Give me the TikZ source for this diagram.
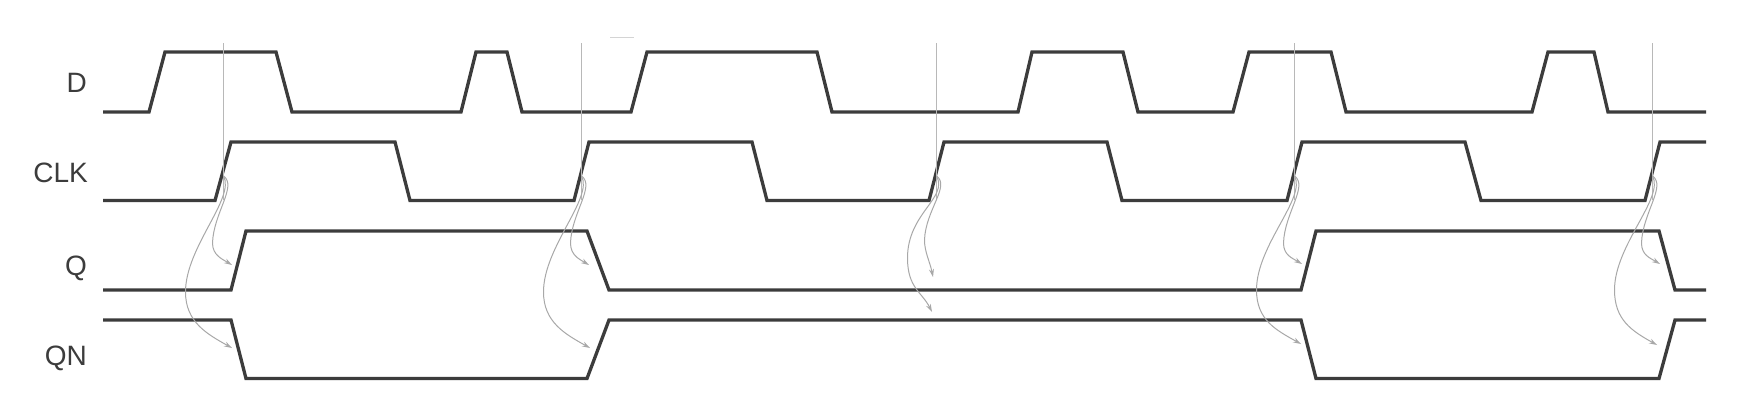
\documentclass[tikz,border=0pt]{standalone}
\usepackage{fontspec}
\setmainfont{Liberation Sans}
\usetikzlibrary{arrows.meta,calc}
\definecolor{wave}{HTML}{3C3C3C}
\definecolor{guide}{HTML}{B8B8B8}
\definecolor{causal}{HTML}{A8A8A8}
\tikzset{
  signal/.style={draw=wave,line width=3.3pt,line join=miter},
  sigLabel/.style={anchor=base east,inner sep=0pt,text=wave,font=\fontsize{28}{32}\selectfont},
  guideline/.style={draw=guide,line width=1pt},
  causearrow/.style={draw=causal,line width=1pt,-{Stealth[length=8pt,width=5pt]}},
}
\begin{document}
\begin{tikzpicture}[x=1pt,y=-1pt]
\useasboundingbox[fill=white] (0,0) rectangle (1738,416);

% labels
\node[sigLabel] (lD)   at (87,92)  {D};
\node[sigLabel] (lCLK) at (88,182) {CLK};
\node[sigLabel] (lQ)   at (87,275) {Q};
\node[sigLabel] (lQN)  at (87,365) {QN};

% waveforms
\draw[signal] (103,112) -- (149,112) -- (165,52) -- (276,52) -- (292,112) -- (461,112) -- (476,52) -- (507,52) -- (522,112)
  -- (631,112) -- (647,52) -- (817,52) -- (832,112) -- (1018,112) -- (1032,52) -- (1123,52) -- (1138,112)
  -- (1233,112) -- (1249,52) -- (1331,52) -- (1346,112) -- (1532,112) -- (1548,52) -- (1594,52) -- (1608,112) -- (1706,112);
\draw[signal] (103,200.5) -- (215,200.5) -- (231,142) -- (395,142) -- (410,200.5) -- (574,200.5) -- (589,142) -- (752,142) -- (767,200.5)
  -- (929,200.5) -- (944,142) -- (1107,142) -- (1122,200.5) -- (1287,200.5) -- (1302,142) -- (1465,142) -- (1481,200.5)
  -- (1645,200.5) -- (1660,142) -- (1706,142);
\draw[signal] (103,290) -- (231,290) -- (246,231) -- (587,231) -- (609,290) -- (1301,290) -- (1316,231) -- (1659,231) -- (1675,290) -- (1706,290);
\draw[signal] (103,320) -- (231,320) -- (246,378.5) -- (587,378.5) -- (609,320) -- (1301,320) -- (1316,378.5) -- (1659,378.5) -- (1675,320) -- (1706,320);

% faint mark at top
\draw[draw=guide!60,line width=0.8pt] (610,37) -- (634,37);

% guides and cause arrows
\foreach \i/\xv/\qx/\qy/\nx/\ny/\ma/\mb/\na/\nb/\ax/\ay/\bx/\by in {
  1/223.5/232/265/232/348/-11/243/-38/292/-10/-6/-25/-14,
  2/581.5/589/265/590/348/-11/243/-38/292/-10/-6/-25/-14,
  3/936.5/933/277/932/312/-12/240/-29/258/-3/-15/-10/-20,
  4/1294.5/1302/264/1301/344/-11/243/-38/290/-10/-6/-25/-14,
  5/1652.5/1660/264/1657/345/-11/243/-38/290/-10/-6/-25/-14}{
  \coordinate (v\i) at (\xv,43);
  \coordinate (w\i) at (\xv,200);
  \coordinate (s\i) at (\xv,176);
  \coordinate (q\i) at (\qx,\qy);
  \coordinate (n\i) at (\nx,\ny);
  \coordinate (mq\i) at (\xv+\ma,\mb);
  \coordinate (mn\i) at (\xv+\na,\nb);
  \draw[guideline] (v\i) -- (w\i);
  \draw[causearrow] (s\i) .. controls ($(s\i)+(14,10)$) and ($(mq\i)+(1,-30)$) .. (mq\i)
     .. controls ($(mq\i)+(0,12)$) and ($(q\i)+(\ax,\ay)$) .. (q\i);
  \draw[causearrow] (s\i) .. controls ($(s\i)+(12,22)$) and ($(mn\i)+(0,-45)$) .. (mn\i)
     .. controls ($(mn\i)+(0,30)$) and ($(n\i)+(\bx,\by)$) .. (n\i);
}
\end{tikzpicture}
\end{document}
